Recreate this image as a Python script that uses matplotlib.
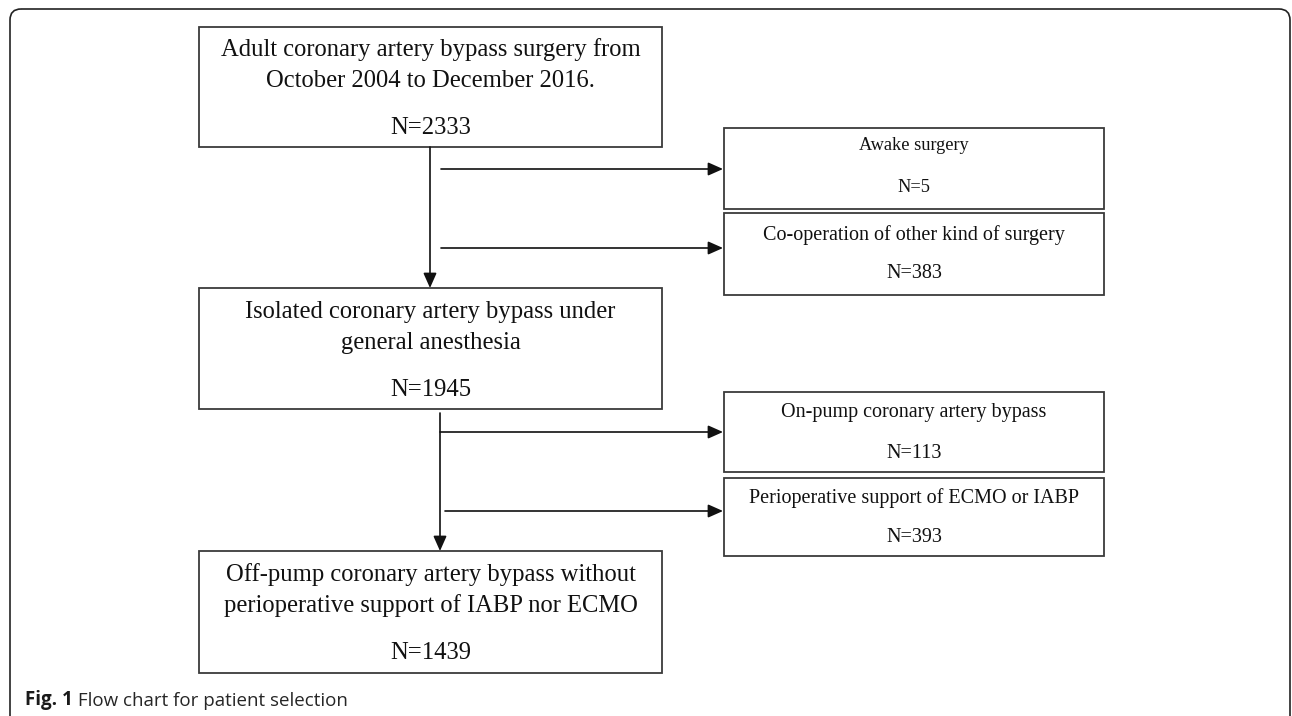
import matplotlib
matplotlib.use("Agg")
from matplotlib import pyplot as plt
from matplotlib.patches import Rectangle, FancyBboxPatch

# Flow chart content
main_labels = [
    ["Adult coronary artery bypass surgery from", "October 2004 to December 2016."],
    ["Isolated coronary artery bypass under", "general anesthesia"],
    ["Off-pump coronary artery bypass without", "perioperative support of IABP nor ECMO"],
]
main_counts = [2333, 1945, 1439]

excl_labels = [
    "Awake surgery",
    "Co-operation of other kind of surgery",
    "On-pump coronary artery bypass",
    "Perioperative support of ECMO or IABP",
]
excl_counts = [5, 383, 113, 393]

caption_bold = "Fig. 1"
caption_text = " Flow chart for patient selection"

# Layout (pixel coordinates, y downwards)
W, H = 1292, 716
MAIN_X = (199, 662)
MAIN_Y = [(27, 147), (288, 409), (551, 673)]
MAIN_TXT_Y = [(50, 81, 128), (312, 343, 390), (575, 606, 653)]
EXCL_X = (724, 1104)
EXCL_Y = [(128, 209), (213, 295), (392, 472), (478, 556)]
EXCL_TXT_Y = [(146, 188), (235, 273), (413, 453), (498, 538)]
EXCL_FS = [13.2, 14.5, 14.5, 14.5]
ARROW_Y = [169, 248, 432, 511]
ARROW_X0 = [441, 441, 440, 445]
STEM_X = [430, 440]
EDGE = "#3a3a3a"
SERIF = "Liberation Serif"
MAIN_FS = 17.7

fig = plt.figure(figsize=(W / 100, H / 100), dpi=100)
ax = fig.add_axes([0, 0, 1, 1])
ax.set_xlim(0, W)
ax.set_ylim(H, 0)
ax.axis("off")

# outer card frame (bottom edge falls off the picture)
frame = FancyBboxPatch((10, 9), 1280, 760, boxstyle="round,pad=0,rounding_size=11",
                       fill=False, edgecolor="#222222", linewidth=1.2)
ax.add_patch(frame)

# main boxes
for (y0, y1), lines, n, ty in zip(MAIN_Y, main_labels, main_counts, MAIN_TXT_Y):
    ax.add_patch(Rectangle((MAIN_X[0], y0), MAIN_X[1] - MAIN_X[0], y1 - y0,
                           fill=False, edgecolor=EDGE, linewidth=1.3))
    cx = (MAIN_X[0] + MAIN_X[1]) / 2
    ax.text(cx, ty[0], lines[0], ha="center", va="center", family=SERIF, fontsize=MAIN_FS, color="#111111")
    ax.text(cx, ty[1], lines[1], ha="center", va="center", family=SERIF, fontsize=MAIN_FS, color="#111111")
    ax.text(cx, ty[2], f"N={n}", ha="center", va="center", family=SERIF, fontsize=MAIN_FS, color="#111111")

# exclusion boxes
for (y0, y1), lab, n, ty, fs in zip(EXCL_Y, excl_labels, excl_counts, EXCL_TXT_Y, EXCL_FS):
    ax.add_patch(Rectangle((EXCL_X[0], y0), EXCL_X[1] - EXCL_X[0], y1 - y0,
                           fill=False, edgecolor=EDGE, linewidth=1.3))
    cx = (EXCL_X[0] + EXCL_X[1]) / 2
    ax.text(cx, ty[0], lab, ha="center", va="center", family=SERIF, fontsize=fs, color="#111111")
    ax.text(cx, ty[1], f"N={n}", ha="center", va="center", family=SERIF, fontsize=fs, color="#111111")

arrow_kw = dict(arrowstyle="-|>,head_length=0.45,head_width=0.2", color="#111111",
                linewidth=1.2, shrinkA=0, shrinkB=0, mutation_scale=20)

# vertical stems between main boxes
for i, sx in enumerate(STEM_X):
    y_start = MAIN_Y[i][1] + (0 if i == 0 else 4)
    ax.annotate("", xy=(sx, MAIN_Y[i + 1][0]), xytext=(sx, y_start), arrowprops=arrow_kw)

# horizontal arrows to exclusion boxes
for ay, ax0 in zip(ARROW_Y, ARROW_X0):
    ax.annotate("", xy=(EXCL_X[0] - 1, ay), xytext=(ax0, ay), arrowprops=arrow_kw)

# caption
t1 = ax.text(25, 700, caption_bold, ha="left", va="center", family="Open Sans",
             fontweight="bold", fontsize=13.5, color="#1a1a1a")
ax.annotate(caption_text, xy=(1, 0), xycoords=t1, ha="left", va="bottom",
            family="Open Sans", fontsize=13.5, color="#262626")

fig.savefig("out.png", dpi=100)
plt.close(fig)
